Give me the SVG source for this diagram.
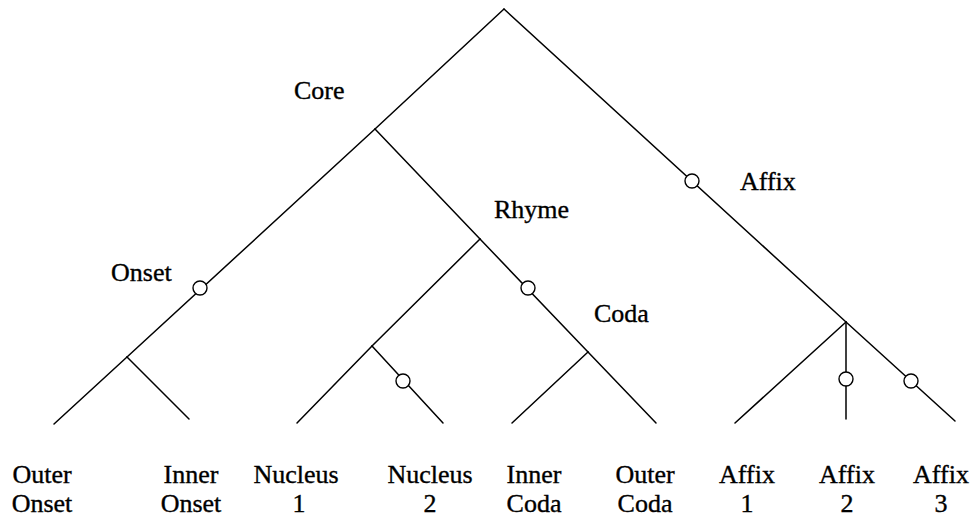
<svg xmlns="http://www.w3.org/2000/svg" width="971" height="518" viewBox="0 0 971 518">
  <style>
    .edge { stroke: #000; stroke-width: 1.5; fill: none; stroke-linecap: round; }
    .opt { fill: #fff; stroke: #000; stroke-width: 1.4; }
    .lbl { font-family: "Liberation Serif", "Times New Roman", serif; font-size: 26px; fill: #000; stroke: #000; stroke-width: 0.35; }
    .leaf { text-anchor: middle; }
  </style>
  <rect width="971" height="518" fill="#fff"/>

  <!-- tree branches; open circles mark optional constituents -->
  <g id="connectors">
    <!-- syllable root to core and affix -->
    <line class="edge" x1="504" y1="9" x2="375" y2="129"/>
    <line class="edge" x1="504" y1="9" x2="846" y2="322"/>
    <!-- core to onset -->
    <line class="edge" x1="375" y1="129" x2="127" y2="357"/>
    <!-- onset daughters -->
    <line class="edge" x1="127" y1="357" x2="54" y2="424"/>
    <line class="edge" x1="127" y1="357" x2="189" y2="419"/>
    <!-- core to rhyme, rhyme to coda -->
    <line class="edge" x1="375" y1="129" x2="480" y2="239"/>
    <line class="edge" x1="480" y1="239" x2="588" y2="352"/>
    <!-- nucleus -->
    <line class="edge" x1="480" y1="239" x2="372" y2="346"/>
    <line class="edge" x1="372" y1="346" x2="297" y2="423"/>
    <line class="edge" x1="372" y1="346" x2="443" y2="423"/>
    <!-- coda daughters -->
    <line class="edge" x1="588" y1="352" x2="512" y2="423"/>
    <line class="edge" x1="588" y1="352" x2="656" y2="423"/>
    <!-- affix daughters -->
    <line class="edge" x1="846" y1="322" x2="735" y2="423"/>
    <line class="edge" x1="846" y1="322" x2="846" y2="419"/>
    <line class="edge" x1="846" y1="322" x2="955" y2="421"/>

    <!-- optionality markers -->
    <circle class="opt" cx="692" cy="181" r="7"/>
    <circle class="opt" cx="200" cy="288" r="7"/>
    <circle class="opt" cx="528" cy="288" r="7"/>
    <circle class="opt" cx="403" cy="381" r="7"/>
    <circle class="opt" cx="846" cy="379" r="7"/>
    <circle class="opt" cx="911" cy="381" r="7"/>
  </g>

  <!-- constituent labels -->
  <g id="core"><text class="lbl" x="294" y="99">Core</text></g>
  <g id="affix"><text class="lbl" x="740" y="190">Affix</text></g>
  <g id="rhyme"><text class="lbl" x="494" y="218">Rhyme</text></g>
  <g id="onset"><text class="lbl" x="111" y="281">Onset</text></g>
  <g id="coda"><text class="lbl" x="594" y="322">Coda</text></g>

  <!-- terminal positions -->
  <g id="outer-onset"><text class="lbl leaf"><tspan x="42" y="483">Outer</tspan><tspan x="42" y="512">Onset</tspan></text></g>
  <g id="inner-onset"><text class="lbl leaf"><tspan x="191" y="483">Inner</tspan><tspan x="191" y="512">Onset</tspan></text></g>
  <g id="nucleus-1"><text class="lbl leaf"><tspan x="296" y="483">Nucleus</tspan><tspan x="299" y="512">1</tspan></text></g>
  <g id="nucleus-2"><text class="lbl leaf"><tspan x="430" y="483">Nucleus</tspan><tspan x="430" y="512">2</tspan></text></g>
  <g id="inner-coda"><text class="lbl leaf"><tspan x="534" y="483">Inner</tspan><tspan x="534" y="512">Coda</tspan></text></g>
  <g id="outer-coda"><text class="lbl leaf"><tspan x="645" y="483">Outer</tspan><tspan x="645" y="512">Coda</tspan></text></g>
  <g id="affix-1"><text class="lbl leaf"><tspan x="747" y="483">Affix</tspan><tspan x="747" y="512">1</tspan></text></g>
  <g id="affix-2"><text class="lbl leaf"><tspan x="847" y="483">Affix</tspan><tspan x="847" y="512">2</tspan></text></g>
  <g id="affix-3"><text class="lbl leaf"><tspan x="941" y="483">Affix</tspan><tspan x="941" y="512">3</tspan></text></g>
</svg>
